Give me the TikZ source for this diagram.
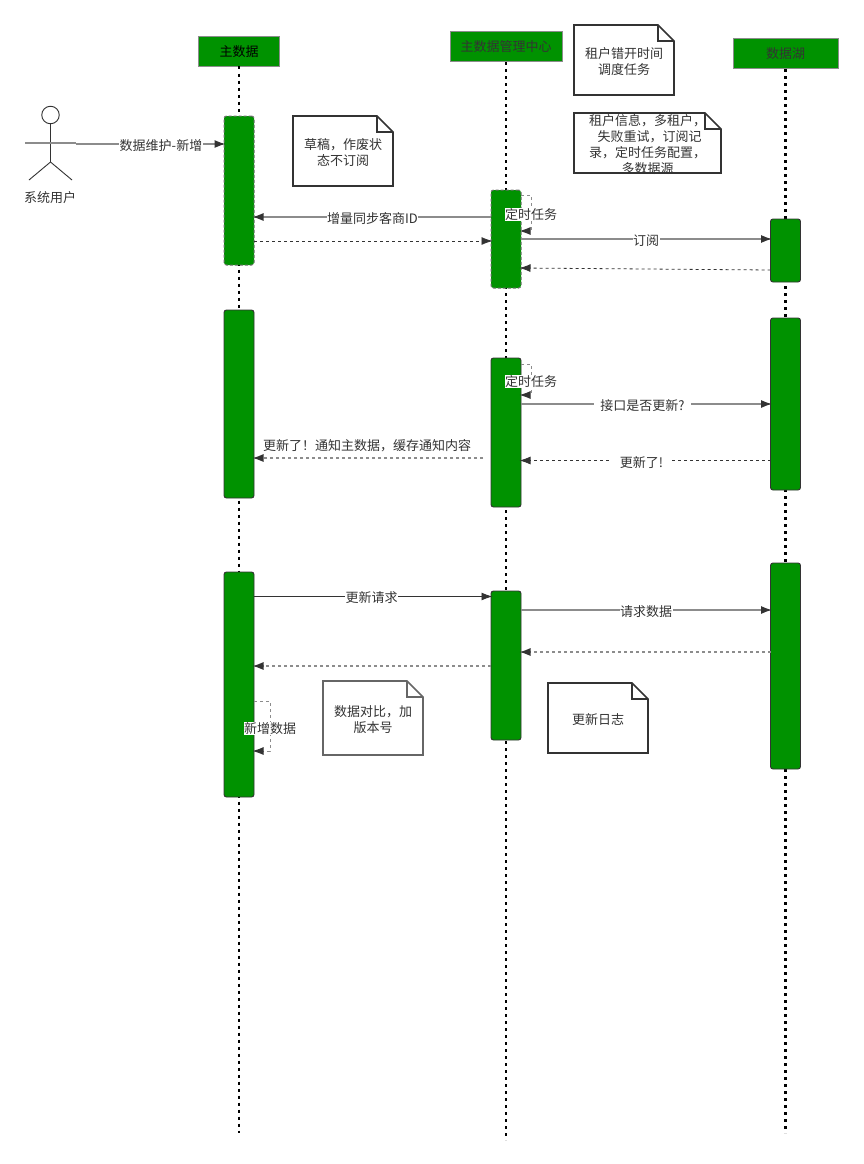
\documentclass[tikz,border=0pt]{standalone}
\usepackage{fontspec}
\setmainfont{Noto Sans CJK SC}
\usetikzlibrary{arrows.meta}
\definecolor{grn}{RGB}{0,146,0}
\definecolor{ink}{RGB}{51,51,51}
\definecolor{midgray}{RGB}{140,140,140}
\tikzset{
  every node/.style={font=\fontsize{13}{16}\selectfont, text=ink, inner sep=0pt, outer sep=0pt},
  header/.style={draw=midgray, fill=grn, line width=1pt, minimum height=30pt},
  life/.style={draw=black, line width=1.6pt, dash pattern=on 3pt off 4pt},
  bar/.style={draw=ink, fill=grn, line width=0.9pt, rounded corners=2.5pt, minimum width=30pt},
  dbar/.style={draw=ink!70, fill=grn, line width=1pt, rounded corners=2.5pt, minimum width=30pt, dash pattern=on 3pt off 2pt},
  tipped/.style={-{Latex[length=11pt,width=8pt,color=ink]}, shorten >=-1.5pt},
  msg/.style={draw=midgray, line width=1.2pt, tipped},
  msgdark/.style={draw=ink, line width=0.9pt, tipped},
  ret/.style={draw=ink, line width=0.8pt, dash pattern=on 3pt off 3pt, tipped},
  retlight/.style={draw=midgray, line width=1.2pt, dash pattern=on 3pt off 3pt, tipped},
  lbl/.style={fill=white, inner xsep=0.5pt, inner ysep=0.5pt},
  plainlbl/.style={align=center},
  actorline/.style={draw=ink, line width=0.9pt},
  notetext/.style={align=center, minimum width=90pt},
}
\newcommand{\foldnote}[7]{% name x1 y1 x2 y2 colour text
  \draw[#6, line width=1.7pt, line join=miter]
    (#2,#3) -- ({#4-16},#3) -- (#4,{#3+16}) -- (#4,#5) -- (#2,#5) -- cycle;
  \draw[#6, line width=1.7pt] ({#4-16},#3) -- ({#4-16},{#3+16}) -- (#4,{#3+16});
  \node[notetext, text width={#4-#2-6}] (#1) at ({(#2+#4)/2},{(#3+#5)/2+2}) {#7};
}
\begin{document}
\begin{tikzpicture}[x=1pt,y=-1pt]
\useasboundingbox (0,0) rectangle (863,1164);
\fill[white] (0,0) rectangle (863,1164);

% headers
\node[header, minimum width=81pt] (h1) at (239,51.5) {\raisebox{-3pt}{\textcolor{black}{主数据}}};
\node[header, minimum width=112pt] (h2) at (506,47) {\raisebox{-4pt}{主数据管理中心}};
\node[header, minimum width=105pt] (h3) at (785.5,54) {\raisebox{-5pt}{数据湖}};

% lifelines
\coordinate (e1) at (239,1133);
\coordinate (e2) at (506,1140);
\coordinate (e3) at (785.5,1133);
\draw[life] (h1.south) -- (e1);
\draw[life] (h2.south) -- (e2);
\draw[life, line width=2.2pt] (h3.south) -- (e3);

% activation bars
\node[dbar, minimum height=149pt] (a1) at (239,190.5) {};
\node[bar,  minimum height=188pt] (a2) at (239,404) {};
\node[bar,  minimum height=225pt] (a3) at (239,684.5) {};
\node[dbar, minimum height=98pt]  (b1) at (506,239) {};
\node[bar,  minimum height=149pt] (b2) at (506,432.5) {};
\node[bar,  minimum height=149pt] (b3) at (506,665.5) {};
\node[bar,  minimum height=63pt]  (c1) at (785.5,250.5) {};
\node[bar,  minimum height=172pt] (c2) at (785.5,404) {};
\node[bar,  minimum height=206pt] (c3) at (785.5,666) {};

% actor
\node[draw=ink, line width=0.9pt, circle, minimum size=17.5pt] (head) at (50.5,115) {};
\coordinate (hip) at (50.5,162);
\coordinate (armL) at (25,143);
\coordinate (armR) at (76,143);
\coordinate (legL) at (29,180);
\coordinate (legR) at (72,180);
\draw[actorline] (head.south) -- (hip);
\draw[actorline] (hip) -- (legL);
\draw[actorline] (hip) -- (legR);
\draw[midgray, line width=1.2pt] (armL) -- (armR);
\node (actor) at (50,197.5) {系统用户};

% messages
\draw[msg] (armR |- 0,144) -- (a1.west |- 0,144);
\node[lbl] (m1) at (161,145.5) {数据维护-新增};

\draw[msg] (b1.west |- 0,217) -- (a1.east |- 0,217);
\node[lbl] (m2) at (372.5,219) {增量同步客商ID};

\draw[ret] (a1.east |- 0,241) -- (b1.west |- 0,241);

\coordinate (s1a) at (531,195);
\coordinate (s1b) at (531,231);
\draw[retlight, line width=0.9pt] (b1.east |- s1a) -- (s1a) -- (s1b) -- (b1.east |- s1b);
\node[lbl] (m3) at (531,214.5) {定时任务};

\draw[msg] (b1.east |- 0,239) -- (c1.west |- 0,239);
\node[lbl] (m4) at (646,241) {订阅};

\draw[ret] (c1.west |- 0,270) -- (b1.east |- 0,268);

\coordinate (s2a) at (531,364);
\coordinate (s2b) at (531,395);
\draw[retlight, line width=0.9pt] (b2.east |- s2a) -- (s2a) -- (s2b) -- (b2.east |- s2b);
\node[lbl] (m5) at (531,381.5) {定时任务};

\draw[msg] (b2.east |- 0,404) -- (c2.west |- 0,404);
\node[lbl, inner xsep=6pt] (m6) at (642.5,405.5) {接口是否更新?};

\coordinate (n1) at (483,458);
\draw[retlight] (n1) -- (a2.east |- n1);
\node[plainlbl] (m7) at (367,446) {更新了！通知主数据，缓存通知内容};

\draw[ret] (c2.west |- 0,460.5) -- (b2.east |- 0,460.5);
\node[lbl, inner xsep=8pt] (m8) at (641.5,462.5) {更新了!};

\draw[msgdark] (a3.east |- 0,596.5) -- (b3.west |- 0,596.5);
\node[lbl] (m9) at (371.5,598) {更新请求};

\draw[msg] (b3.east |- 0,610) -- (c3.west |- 0,610);
\node[lbl] (m10) at (646,612) {请求数据};

\draw[retlight] (c3.west |- 0,652) -- (b3.east |- 0,652);
\draw[retlight] (b3.west |- 0,666) -- (a3.east |- 0,666);

\coordinate (s3a) at (270,701);
\coordinate (s3b) at (270,751);
\draw[retlight, line width=0.9pt] (a3.east |- s3a) -- (s3a) -- (s3b) -- (a3.east |- s3b);
\node[lbl] (m11) at (270,728.5) {新增数据};

% notes
\foldnote{n-a}{293}{116}{393}{186}{ink}{草稿，作废状\\态不订阅}
\foldnote{n-b}{574}{25}{674}{95}{ink}{租户错开时间\\调度任务}
\foldnote{n-c}{574}{113}{721}{173}{ink}{租户信息，多租户，\\\hspace*{4pt}失败重试，订阅记\\录，定时任务配置，\\多数据源}
\foldnote{n-d}{323}{681}{423}{755}{ink!75}{\raisebox{-1pt}{数据对比，加}\\\raisebox{-1pt}{版本号}}
\foldnote{n-e}{548}{683}{648}{753}{ink}{更新日志}
\end{tikzpicture}
\end{document}
